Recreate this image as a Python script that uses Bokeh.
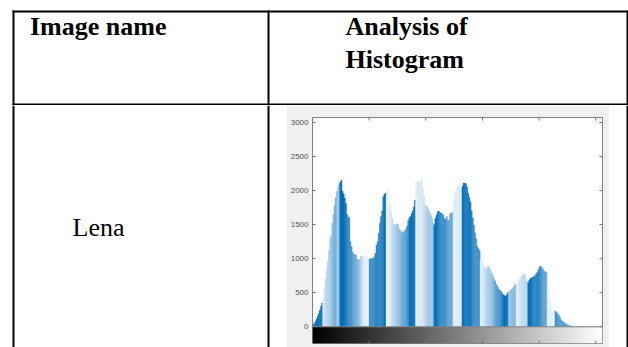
import numpy as np
from bokeh.plotting import figure
from bokeh.layouts import column, row
from bokeh.models import Range1d, FixedTicker, LinearAxis, Span, ColumnDataSource
from bokeh.palettes import Greys256
from bokeh.embed import file_html
from bokeh.resources import INLINE

# ---- table texts -------------------------------------------------------
header_left = "Image name"
header_right = ["Analysis of", "Histogram"]
image_name = "Lena"

# ---- gray-level histogram of the image (256 bins) ----------------------
gray_levels = list(range(256))
pixel_counts = [
    25, 45, 75, 110, 150, 195, 245, 300, 350, 420,
    560, 700, 850, 960, 1120, 1290, 1340, 1520, 1650, 1780,
    1900, 1990, 2050, 2090, 2120, 2150, 1990, 1950, 1890, 1810,
    1650, 1610, 1600, 1250, 1180, 1100, 1070, 1060, 1050, 990,
    985, 990, 1030, 1040, 1050, 1030, 1025, 1035, 1030, 1010,
    995, 1000, 1000, 1005, 1030, 1080, 1200, 1250, 1370, 1520,
    1620, 1700, 1910, 1950, 1960, 2030, 2010, 1850, 1800, 1700,
    1600, 1510, 1505, 1500, 1505, 1510, 1440, 1420, 1380, 1400,
    1390, 1410, 1440, 1480, 1560, 1600, 1620, 1660, 1700, 1760,
    1860, 2120, 2130, 2140, 2120, 2130, 2170, 2020, 1920, 1790,
    1770, 1760, 1720, 1680, 1640, 1600, 1520, 1500, 1590, 1640,
    1690, 1700, 1680, 1670, 1660, 1640, 1590, 1580, 1620, 1560,
    1570, 1660, 1670, 1680, 1850, 1950, 2000, 2050, 2060, 2080,
    2020, 2040, 2060, 2110, 2110, 2100, 2050, 1960, 1900, 1830,
    1700, 1600, 1490, 1380, 1290, 1180, 1150, 1120, 970, 960,
    920, 880, 860, 850, 880, 890, 860, 820, 780, 740,
    700, 670, 620, 590, 550, 540, 520, 490, 470, 460,
    450, 470, 500, 520, 530, 550, 560, 590, 610, 630,
    660, 680, 700, 720, 740, 760, 780, 770, 700, 660,
    650, 690, 710, 720, 730, 740, 750, 780, 800, 840,
    880, 890, 870, 840, 820, 810, 800, 790, 590, 400,
    300, 240, 230, 235, 230, 215, 190, 170, 140, 100,
    85, 70, 60, 45, 38, 30, 22, 18, 12, 8,
    5, 3, 2, 1, 1, 0, 0, 0, 0, 0,
    0, 0, 0, 0, 0, 0, 0, 0, 0, 0, 0, 0, 0, 0, 0, 0,
]
count_ticks = [0, 500, 1000, 1500, 2000, 2500, 3000]
level_ticks = [0, 50, 100, 150, 200, 250]

# ---- bar shading: bands of blue tones along the gray axis ---------------
shade_stops = [
    (0, 0.95), (8.9, 1.0), (9, 0.05), (11, 0.15), (17, 0.35), (21, 0.5),
    (22, 0.3), (24, 0.4), (24.5, 1.0), (29.5, 1.0), (33, 0.7), (39, 0.5),
    (42, 0.3), (45, 0.1), (49.9, 0.0), (50, 0.75), (58, 0.8), (64.9, 0.95),
    (65, 0.0), (68, 0.05), (74, 0.3), (79, 0.45), (83, 0.65), (86, 0.95),
    (90.5, 1.0), (90.6, 0.05), (97, 0.1), (101, 0.25), (106.9, 0.35),
    (107, 1.0), (111, 0.9), (115, 0.75), (120, 0.6), (124.3, 0.5),
    (124.4, 0.05), (131.7, 0.1), (131.8, 1.0), (137.6, 0.95), (142, 0.8),
    (147.9, 0.65), (148, 0.03), (152, 0.15), (158, 0.35), (164, 0.65),
    (170, 1.0), (172.9, 0.95), (173, 0.35), (179.9, 0.4), (180, 0.0),
    (182, 0.1), (190.4, 0.25), (190.5, 1.0), (199, 0.8), (206.5, 0.55),
    (206.6, 0.05), (213.9, 0.05), (214, 0.7), (224.5, 0.55), (230, 0.4),
    (256, 0.4),
]
tone_light = np.array([241, 247, 252])
tone_mid = np.array([108, 170, 214])
tone_dark = np.array([0, 108, 182])


def shade_color(s):
    if s <= 0.5:
        c = tone_light + (tone_mid - tone_light) * (s / 0.5)
    else:
        c = tone_mid + (tone_dark - tone_mid) * ((s - 0.5) / 0.5)
    r, g, b = (int(round(v)) for v in c)
    return f"#{r:02x}{g:02x}{b:02x}"


stop_x = [p[0] for p in shade_stops]
stop_s = [p[1] for p in shade_stops]
levels = np.array(gray_levels)
bar_colors = [shade_color(s) for s in np.interp(levels + 0.5, stop_x, stop_s)]

RULE = "black"
RULE_W = 2
SERIF = "Liberation Serif"
# the svg text box sits its baseline this many pixels below the anchor
BASELINE_SHIFT = 10


def blank(width, height, xr, yr, **kw):
    p = figure(width=width, height=height, x_range=xr, y_range=yr,
               output_backend="svg", toolbar_location=None,
               x_axis_location=None, y_axis_location=None,
               min_border=0, min_border_left=0, min_border_right=0,
               min_border_top=0, min_border_bottom=0,
               outline_line_color=None, frame_align=False, **kw)
    p.grid.visible = False
    return p


# ---- header row of the table --------------------------------------------
head = blank(628, 105, Range1d(0, 628), Range1d(105, 0))
head.segment(x0=[12, 12], y0=[11, 104], x1=[628, 628], y1=[11, 104],
             line_color=RULE, line_width=RULE_W)
head.segment(x0=[13, 268, 627], y0=[10, 10, 10], x1=[13, 268, 627], y1=[105, 105, 105],
             line_color=RULE, line_width=RULE_W)
head.text(x=[29.5], y=[35.5 - BASELINE_SHIFT], text=[header_left], text_font=SERIF,
          text_font_style="bold", text_font_size="26px",
          text_baseline="alphabetic", text_align="left", text_color="black")
head.text(x=[345, 345], y=[35.5 - BASELINE_SHIFT, 68.5 - BASELINE_SHIFT],
          text=header_right, text_font=SERIF,
          text_font_style="bold", text_font_size="26px",
          text_baseline="alphabetic", text_align="left", text_color="black")

# ---- body row: name cell ------------------------------------------------
name_cell = blank(286, 242, Range1d(0, 286), Range1d(242, 0))
name_cell.segment(x0=[13, 268], y0=[0, 0], x1=[13, 268], y1=[242, 242],
                  line_color=RULE, line_width=RULE_W)
name_cell.text(x=[72], y=[131.7 - BASELINE_SHIFT], text=[image_name], text_font=SERIF,
               text_font_size="26px", text_baseline="alphabetic",
               text_align="left", text_color="black")

# ---- body row: histogram ------------------------------------------------
CBAR = 245          # height of the gray-level bar below the histogram, in counts
Y_TOP = 3073
X_END = 256
FRAME_W, FRAME_H = 290, 226
hist = figure(width=323, height=242, x_range=Range1d(0, X_END),
              y_range=Range1d(-CBAR, Y_TOP),
              output_backend="svg", toolbar_location=None,
              x_axis_location=None, y_axis_location=None,
              min_border_left=26, min_border_right=7,
              min_border_top=12, min_border_bottom=4,
              background_fill_color="white", border_fill_color="#f0f0f0",
              outline_line_color="#808080", outline_line_width=1,
              frame_align=False)
hist.grid.visible = False

src = ColumnDataSource(dict(left=levels, right=levels + 1,
                            top=pixel_counts, color=bar_colors))
hist.quad(left="left", right="right", bottom=0, top="top", source=src,
          fill_color="color", line_color="color", line_width=0.4)

ramp = np.arange(256, dtype=float).reshape(1, 256)
hist.image(image=[ramp], x=0, y=-CBAR, dw=X_END, dh=CBAR, palette=Greys256)
hist.add_layout(Span(location=0, dimension="width", line_color="#808080",
                     line_width=1))

tick_col = "#707070"
yl = LinearAxis(ticker=FixedTicker(ticks=count_ticks), major_tick_in=3,
                major_tick_out=0, minor_tick_line_color=None,
                axis_line_color=None, major_tick_line_color=tick_col,
                major_label_text_font="Liberation Sans",
                major_label_text_font_size="8px",
                major_label_text_color="#505050", major_label_standoff=4)
hist.add_layout(yl, "left")

# inward tick marks on the other three sides of the box
tick_len_y = 3 * (Y_TOP + CBAR) / FRAME_H
tick_len_x = 3 * X_END / FRAME_W
lt = np.array(level_ticks, dtype=float)
ct = np.array(count_ticks, dtype=float)
hist.segment(x0=lt, y0=np.full(lt.size, Y_TOP), x1=lt,
             y1=np.full(lt.size, Y_TOP - tick_len_y), line_color=tick_col)
hist.segment(x0=lt, y0=np.full(lt.size, -CBAR), x1=lt,
             y1=np.full(lt.size, -CBAR + tick_len_y), line_color=tick_col)
hist.segment(x0=np.full(ct.size, X_END), y0=ct,
             x1=np.full(ct.size, X_END - tick_len_x), y1=ct, line_color=tick_col)

# ---- body row: right edge of the table ----------------------------------
edge = blank(19, 242, Range1d(0, 19), Range1d(242, 0))
edge.segment(x0=[18], y0=[0], x1=[18], y1=[242], line_color=RULE,
             line_width=RULE_W)

page = column(head, row(name_cell, hist, edge, spacing=0), spacing=0)

with open("out.html", "w") as f:
    f.write(file_html(page, INLINE))
